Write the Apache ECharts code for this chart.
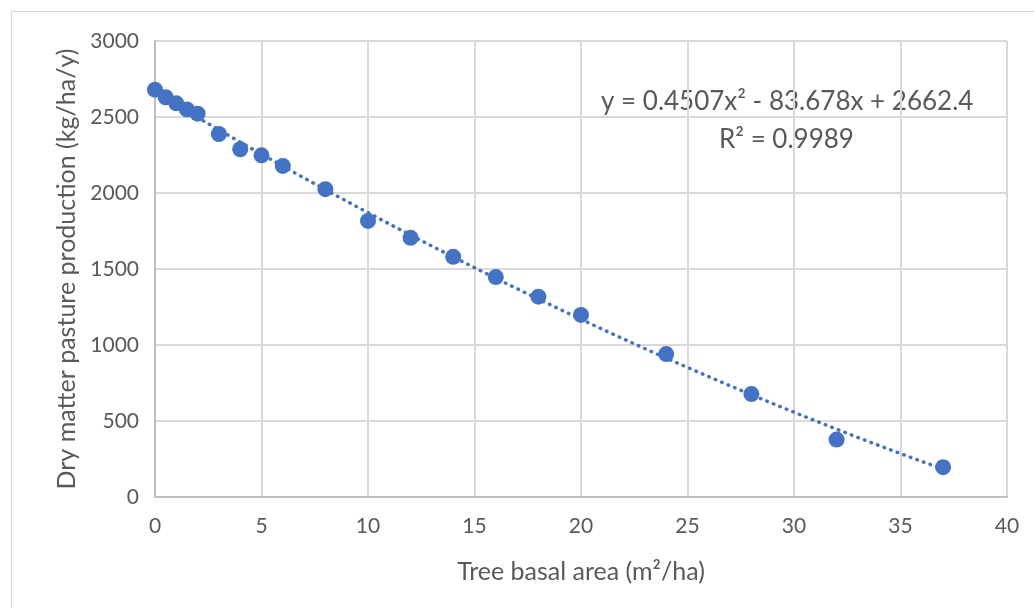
<!DOCTYPE html>
<html><head><meta charset="utf-8">
<script src="https://cdn.jsdelivr.net/npm/echarts@6/dist/echarts.min.js"></script>
<style>
html,body{margin:0;padding:0;background:#fff;}
#frame{position:absolute;left:11px;top:11px;width:1040px;height:620px;border:1.5px solid #d9d9d9;box-sizing:border-box;}
#c{position:absolute;left:0;top:0;width:1034px;height:608px;}
</style></head>
<body>
<div id="frame"></div>
<div id="c"></div>
<script>
// Data
const basalArea = [0, 0.5, 1, 1.5, 2, 3, 4, 5, 6, 8, 10, 12, 14, 16, 18, 20, 24, 28, 32, 37];
const production = [2680, 2630, 2590, 2550, 2522, 2388, 2288, 2248, 2178, 2025, 1816, 1705, 1580, 1447, 1318, 1198, 940, 677, 378, 196];
// Trendline coefficients shown on the chart: y = a x^2 + b x + c
const trendCoef = [0.4507, -83.678, 2662.4];
const trendRange = [0, 37];
const xTicks = [0, 40, 5];
const yTicks = [0, 3000, 500];
const eqText = 'y = 0.4507x² - 83.678x + 2662.4';
const r2Text = 'R² = 0.9989';

const pts = basalArea.map((x, i) => [x, production[i]]);
const trend = [];
for (let x = trendRange[0]; x <= trendRange[1] + 1e-9; x += 0.25) {
  trend.push([x, trendCoef[0] * x * x + trendCoef[1] * x + trendCoef[2]]);
}
const font = 'Lato, "Open Sans", sans-serif';
const chart = echarts.init(document.getElementById('c'));
chart.setOption({
  animation: false,
  grid: {left: 155, right: 27, top: 41, bottom: 111, containLabel: false},
  xAxis: {
    type: 'value', min: xTicks[0], max: xTicks[1], interval: xTicks[2],
    name: 'Tree basal area (m²/ha)', nameLocation: 'middle', nameGap: 62,
    nameTextStyle: {color: '#595959', fontSize: 25, fontFamily: font},
    axisLine: {show: true, lineStyle: {color: '#bfbfbf', width: 2}},
    axisTick: {show: false},
    axisLabel: {color: '#595959', fontSize: 21, fontFamily: font, margin: 19},
    splitLine: {show: true, lineStyle: {color: '#d9d9d9', width: 2}}
  },
  yAxis: {
    type: 'value', min: yTicks[0], max: yTicks[1], interval: yTicks[2],
    name: 'Dry matter pasture production (kg/ha/y)', nameLocation: 'middle', nameGap: 74,
    nameTextStyle: {color: '#595959', fontSize: 25, fontFamily: font},
    axisLine: {show: true, lineStyle: {color: '#bfbfbf', width: 2}},
    axisTick: {show: false},
    axisLabel: {color: '#595959', fontSize: 21, fontFamily: font, margin: 16,
      formatter: v => String(v)},
    splitLine: {show: true, lineStyle: {color: '#d9d9d9', width: 2}}
  },
  graphic: [
    {type: 'text', left: 601, top: 89, style: {text: eqText, fill: '#595959', fontSize: 26, fontFamily: font}},
    {type: 'text', left: 719, top: 127, style: {text: r2Text, fill: '#595959', fontSize: 26, fontFamily: font}}
  ],
  series: [
    {type: 'line', data: trend, showSymbol: false, symbol: 'none', smooth: false,
     lineStyle: {color: '#4472C4', width: 3.5, type: [0.5, 6.5], cap: 'round'}, z: 2},
    {type: 'scatter', data: pts, symbol: 'circle', symbolSize: 16,
     itemStyle: {color: '#4472C4', opacity: 1}, z: 3}
  ]
});
</script>
</body></html>
